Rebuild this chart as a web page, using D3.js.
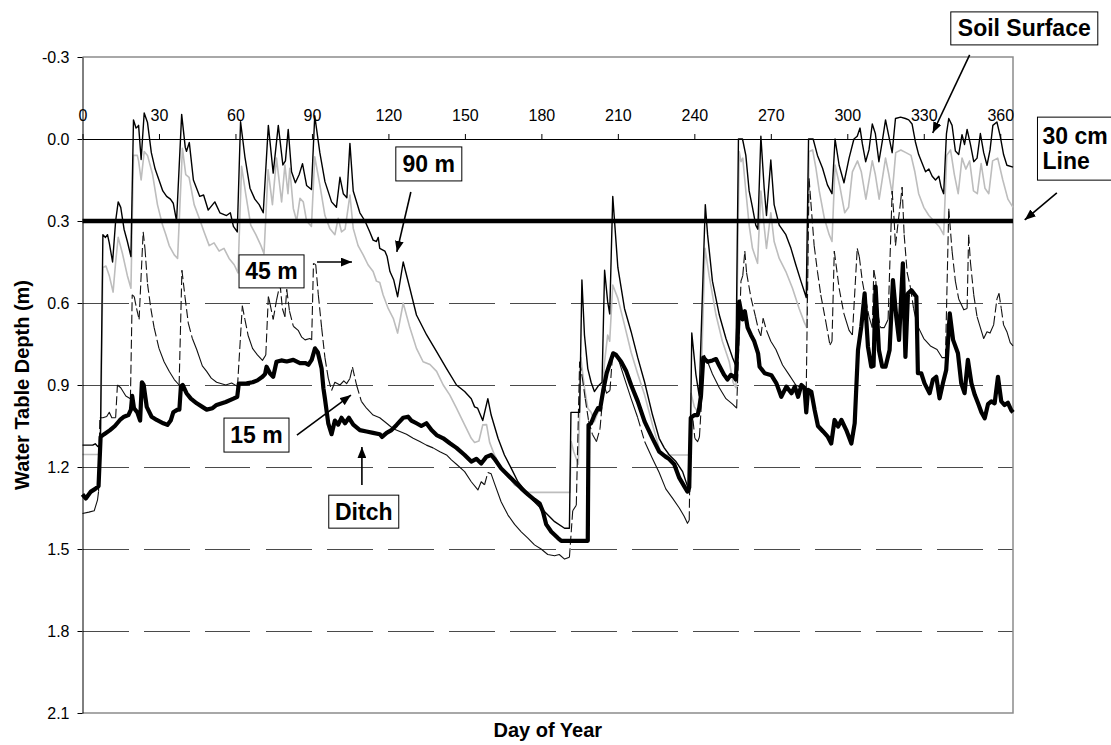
<!DOCTYPE html>
<html>
<head>
<meta charset="utf-8">
<title>Water Table Depth</title>
<script src="https://cdn.jsdelivr.net/npm/d3@7"></script>
<style>
  html, body { margin: 0; padding: 0; background: #fff; }
  svg { display: block; font-family: "Liberation Sans", Arial, sans-serif; }
</style>
</head>
<body>
<svg id="chart" width="1111" height="745"></svg>
<script>
// Values: [day of year, water table depth (m)].
const dayTicks = [0, 30, 60, 90, 120, 150, 180, 210, 240, 270, 300, 330, 360];
const depthTicks = [-0.3, 0.0, 0.3, 0.6, 0.9, 1.2, 1.5, 1.8, 2.1];
const thirtyCmLine = 0.3;

const well90m = [
  [0,1.12],[4,1.12],[5,1.115],[6,1.125],[7,1.12],[8,0.35],[9,0.36],[9.8,0.35],[10.5,0.38],[11.8,0.45],[13,0.30],[14,0.23],[15,0.25],[16.3,0.33],[17.6,0.375],[19,0.43],
  [20,-0.07],[21,-0.04],[21.6,-0.045],[22,-0.05],[23,0.075],[24.2,-0.095],[25.5,-0.06],[27,0.05],[28.5,0.11],[30,0.15],[31.5,0.19],[33,0.21],[34.5,0.22],[35.6,0.235],[36.9,0.30],
  [38.9,-0.09],[40.3,0.03],[40.8,0.045],[41.9,0.013],[43.5,0.15],[46,0.21],[47.5,0.205],[49.3,0.26],[51.9,0.23],[53.9,0.27],[56.5,0.28],[58,0.27],[59.2,0.32],[60.7,0.34],
  [62,-0.063],[63.7,0.065],[65.7,0.18],[67.6,0.22],[69.3,0.24],[70.9,0.27],
  [72.9,-0.05],[74.8,0.125],[76.8,-0.05],[78.6,0.095],[79.6,0.08],[80.7,-0.035],[82,0.12],[83.5,0.16],[85,0.13],[86.3,0.09],[87.9,0.17],[89.8,0.185],
  [91.1,-0.085],[93.1,0.05],[95.1,0.156],[97.7,0.23],[99.6,0.25],[101,0.14],[102.3,0.2],[103.7,0.215],[104.9,0.016],[106.2,0.19],[108.8,0.27],[110.8,0.30],[112.7,0.34],[114,0.37],[115.3,0.375],[116,0.36],[116.6,0.40],[118.6,0.41],[119.5,0.43],[120.6,0.485],[122.1,0.516],[123.6,0.577],[125.8,0.45],[128.4,0.546],[131,0.644],[135,0.717],[138.9,0.778],[142.8,0.84],[146.7,0.9],
  [149.9,0.924],[152.5,0.95],[153.8,0.98],[155,0.985],[157,1.03],[159,0.95],[160.3,1.01],[163,1.095],[165.5,1.156],[168.2,1.205],[170.8,1.254],[173.4,1.284],[176,1.315],[178.6,1.34],[181.2,1.363],[185.2,1.40],[189.1,1.424],[191,1.424],
  [191.6,1.0],[195,1.0],[195.9,0.516],[196.9,0.717],[198.2,0.84],[199.5,0.89],[200.8,0.924],[202.2,0.905],[203.8,0.89],[204.8,0.48],[206,0.595],[206.8,0.64],[208,0.21],[210,0.47],[212.6,0.62],[215.2,0.705],[217.8,0.80],[220.5,0.89],[223.6,1.01],[226.2,1.095],[228.2,1.13],[230.2,1.156],[232.8,1.18],[235.4,1.217],[237.3,1.27],[238.2,1.29],
  [239,0.71],[240.6,0.86],[241.9,0.94],[244.3,0.24],[245.2,0.35],[247.1,0.52],[249.8,0.644],[252.4,0.73],[255,0.80],[256.3,0.83],
  [257.3,0.0],[258.9,0.0],[260.2,0.06],[261.5,0.19],[262.8,0.25],[264.1,0.315],[264.9,0.33],[266.1,-0.01],[267.4,0.18],[268.3,0.28],[270,0.077],[271.3,0.24],[273.3,0.315],[275.9,0.35],[277.9,0.40],[279.8,0.46],[281.8,0.52],[283.9,0.58],
  [284.8,0.0],[286.6,0.0],[288.3,0.06],[290.3,0.107],[292.2,0.168],[294,0.2],[295.2,0.0],[296.8,0.096],[298.7,0.16],[300.7,0.07],[302.6,0.0],[303.9,-0.01],[305,-0.04],[305.9,0.017],[307.2,0.083],[308.5,0.04],[309.8,-0.055],[311,-0.02],[312.4,0.083],[313.7,0.01],[315,-0.07],[316.3,-0.01],[317.6,0.05],[318.9,-0.075],[320.9,-0.08],[322.8,-0.075],[324.1,-0.07],[325.4,-0.055],[326.7,0.01],[328,0.057],[329.4,0.09],[330.7,0.12],[332,0.11],[333.3,0.136],[334.6,0.15],[335.9,0.136],[336.8,0.176],[337.8,0.2],
  [338.9,-0.02],[339.8,-0.075],[341.1,-0.05],[342.4,0.044],[343.7,0.057],[345,-0.016],[346,0.02],[347,-0.035],[348.3,0.02],[349.6,0.083],[350.9,0.07],[352.2,-0.02],[353.5,0.05],[354.8,0.096],[356,0.04],[357.1,-0.05],[358.7,-0.062],[360,-0.01],[361.3,0.057],[362.6,0.096],[365,0.103]
];

const well45m = [
  [0,1.154],[6,1.154],[7,1.15],[8,0.47],[9.2,0.465],[10.5,0.50],[12,0.56],[13,0.45],[14,0.36],[15.7,0.42],[17.6,0.50],[19,0.546],
  [20,0.06],[21.5,0.06],[22,0.08],[23,0.15],[24.2,0.046],[25.5,0.06],[27.5,0.13],[29.4,0.24],[31.4,0.315],[32.7,0.35],[34,0.39],[36,0.424],[37.3,0.437],
  [39.2,0.034],[40.5,0.13],[41.8,0.14],[43.8,0.24],[45.8,0.29],[47.7,0.34],[49.7,0.39],[51.6,0.38],[53.6,0.41],[55.5,0.40],[57.5,0.437],[59.5,0.46],[61,0.49],
  [62.4,0.10],[64,0.2],[66,0.315],[68,0.35],[70,0.39],[71.2,0.42],
  [72.8,0.113],[74.5,0.24],[76.1,0.07],[78.1,0.23],[79.4,0.095],[80.6,0.2],[81.3,0.107],[82.7,0.254],[84,0.30],[85.3,0.217],[86.6,0.23],[87.9,0.30],[89.8,0.32],
  [91.1,0.065],[93.1,0.168],[95.1,0.28],[97,0.327],[99,0.35],[100.3,0.29],[101.6,0.34],[103,0.33],[104.9,0.205],[106.2,0.327],[108.1,0.39],[110.1,0.424],[112,0.46],[114,0.485],[115.3,0.52],[116.6,0.525],[117.9,0.57],[119.9,0.62],[121.9,0.656],[123.6,0.71],[125.8,0.60],[128.4,0.69],[131,0.766],[133.6,0.815],[136.3,0.825],[138.9,0.85],[141.5,0.9],[144.1,0.937],[146.7,0.985],
  [149.9,1.046],[152.5,1.095],[153.8,1.11],[155.5,1.105],[157,1.046],[158.5,1.045],[159.7,1.11],[161.6,1.156],[164.2,1.205],[166.9,1.23],[169.5,1.266],[172.1,1.278],[173.4,1.293],[191.2,1.293],
  [191.7,1.107],[192.7,1.144],[194.5,1.19],[195.5,0.80],[196.9,0.91],[198.2,0.985],[199.5,1.0],[200.8,1.034],[202.2,1.0],[203.5,0.973],[204.8,0.815],[206,0.717],[206.8,0.74],[208,0.534],[210,0.583],[212.6,0.68],[215.2,0.78],[217.8,0.86],[220.5,0.937],[223.6,1.046],[226.2,1.13],[227.5,1.156],[238,1.156],
  [238.7,0.93],[240,0.98],[241.5,1.0],[242.6,0.9],[244.2,0.40],[245.8,0.50],[248.5,0.644],[251,0.74],[253.7,0.815],[255.2,0.89],[256.3,0.91],
  [257.6,0.046],[258.3,0.083],[259,0.07],[260.2,0.19],[261.5,0.315],[262.8,0.40],[264.8,0.455],[266.1,0.19],[267.4,0.32],[268.3,0.40],[270,0.27],[271.3,0.375],[273.3,0.437],[275.9,0.485],[278.5,0.546],[281.1,0.62],[283.1,0.67],[284.1,0.69],
  [285,0.046],[286.4,0.04],[287.7,0.107],[289,0.19],[291,0.29],[292.9,0.35],[294,0.375],
  [295.2,0.095],[297,0.17],[299,0.27],[300.5,0.25],[302,0.12],[304,0.08],[305.5,0.12],[307.3,0.22],[309.8,0.08],[311,0.13],[312.5,0.22],[315,0.07],[316.3,0.13],[317.6,0.20],[319,0.05],[321,0.04],[323,0.05],[325,0.06],[326.5,0.12],[328,0.20],[330,0.25],[332,0.28],[334,0.30],[336,0.32],[337.8,0.35],
  [339,0.06],[340.5,0.04],[342,0.13],[343.5,0.20],[345,0.07],[346.5,0.11],[348,0.08],[349.5,0.19],[351,0.20],[352.5,0.09],[354,0.18],[355.5,0.20],[357,0.08],[359,0.07],[361,0.15],[363,0.22],[365,0.25]
];

const well15m = [
  [0,1.37],[2.5,1.365],[4.6,1.36],[5.9,1.32],[6.3,1.29],[6.8,1.02],[8,1.02],[9.5,1.015],[10.5,1.0],[11.5,1.02],[13,1.02],[13.7,0.90],[15,0.91],[17,0.94],[18.8,0.95],
  [19.5,0.57],[20.3,0.577],[21.2,0.62],[22.2,0.66],[23.8,0.34],[24.5,0.40],[25.5,0.53],[26.8,0.62],[28.1,0.69],[30,0.766],[32,0.815],[34,0.85],[36,0.88],[37.9,0.90],
  [39,0.48],[40.2,0.577],[41.5,0.674],[43.1,0.73],[44.8,0.77],[47,0.83],[48.7,0.85],[50.5,0.875],[52.6,0.89],[56.2,0.9],[58.5,0.893],[60.8,0.905],
  [62.7,0.61],[63.7,0.66],[65,0.72],[66.7,0.766],[68.6,0.79],[70.6,0.81],[71.9,0.79],
  [72.9,0.577],[73.5,0.60],[74.8,0.66],[76.1,0.59],[77.5,0.53],[78.4,0.62],[79.4,0.65],[80.1,0.55],[81.2,0.63],[82.7,0.685],[84.6,0.70],[86,0.725],[87.3,0.735],[89.2,0.73],[89.9,0.735],
  [90.6,0.455],[91.5,0.46],[92.5,0.57],[93.8,0.69],[95.1,0.80],[96.4,0.875],[97.7,0.92],[99,0.89],[101,0.9],[102.5,0.885],[103.6,0.895],[104.9,0.876],[105.9,0.835],[107.5,0.90],[109.4,0.96],[111.4,0.985],[114,1.01],[116.6,1.02],[119.3,1.04],[121.9,1.06],[124.5,1.07],[127.1,1.08],[129.7,1.095],[132.3,1.107],[134.9,1.12],[137.5,1.13],[140.2,1.144],[142.8,1.156],[144.7,1.174],[146.7,1.19],
  [149.9,1.217],[152.5,1.254],[155.1,1.284],[156.4,1.254],[157.7,1.265],[159,1.22],[160.3,1.225],[161.6,1.26],[164.2,1.327],[166.9,1.376],[169.5,1.41],[172.1,1.437],[174.7,1.46],[177.3,1.485],[179.9,1.50],[182.5,1.52],[185.2,1.525],[187,1.52],[189.1,1.537],[191,1.53],
  [192.3,1.36],[193.7,1.34],[195,0.815],[196,0.87],[197.2,0.95],[198.5,1.03],[200,1.08],[201.6,1.107],[203,1.06],[204.5,0.90],[205.6,0.93],[206.9,0.92],[208,0.78],[210,0.80],[212.6,0.876],[215.2,0.95],[217.8,1.02],[220.5,1.107],[223.6,1.17],[226.2,1.22],[228.8,1.28],[231.5,1.315],[234.1,1.35],[236,1.38],[237.3,1.406],[238,1.395],
  [238.5,1.01],[239.5,1.03],[240.2,1.095],[241.3,1.107],[242,1.09],[243.9,0.79],[245.2,0.815],[247.1,0.86],[249.8,0.91],[252.4,0.95],[255,0.97],[256.6,0.985],
  [258.3,0.52],[259,0.50],[259.8,0.41],[260.5,0.49],[262.2,0.58],[264,0.65],[265.2,0.70],[266.1,0.72],[267,0.656],[268.3,0.70],[270,0.74],[272,0.77],[274.6,0.827],[277.2,0.863],[279.8,0.9],[282.4,0.912],[283.9,0.92],
  [285,0.144],[285.7,0.23],[287,0.39],[288.3,0.485],[289.6,0.57],[291.6,0.67],[293.2,0.754],[294,0.74],
  [294.9,0.41],[296.8,0.546],[298.7,0.64],[300.7,0.70],[302,0.717],[303.9,0.40],[304.7,0.43],[305.9,0.52],[307.2,0.585],[308.5,0.65],[309.8,0.69],[310.4,0.48],[311.2,0.52],[312,0.64],[313,0.69],[314.5,0.69],[316,0.66],[317.6,0.19],[318.4,0.30],[318.9,0.39],[320,0.30],[320.9,0.23],[321.5,0.176],[322.3,0.35],[323.5,0.49],[324.8,0.545],[326,0.62],[327.4,0.68],[330,0.73],[332.6,0.757],[335.2,0.77],[337.2,0.80],[338.5,0.80],
  [339.8,0.255],[341.1,0.41],[342.4,0.52],[343.7,0.585],[345.7,0.625],[347,0.62],[347.6,0.35],[348.3,0.45],[349.6,0.57],[350.9,0.65],[352.2,0.69],[353.5,0.73],[354.8,0.705],[356,0.71],[357.4,0.68],[358.7,0.585],[359.5,0.565],[360.4,0.62],[361.3,0.68],[362.6,0.705],[363.9,0.745],[365,0.757]
];

const ditch = [
  [0,1.30],[1.3,1.315],[3.3,1.29],[5,1.28],[6.3,1.27],[7.1,1.09],[8.5,1.08],[10.8,1.065],[12.7,1.05],[14.7,1.028],[16.3,1.016],[18,1.01],[19,0.99],[19.5,0.94],[20.2,0.985],[21.5,1.0],[22.6,1.03],[23.3,0.89],[24,0.90],[25.2,0.98],[27.1,1.016],[29.1,1.028],[31.7,1.04],[33.3,1.046],[34.6,1.03],[35.6,1.0],[37.3,0.99],[38,0.99],[38.6,0.905],[39.3,0.90],[40.8,0.93],[42.5,0.95],[44.8,0.967],[47,0.98],[48.7,0.99],[51,0.985],[52.6,0.973],[56.2,0.962],[59.2,0.95],[60.7,0.943],[61.3,0.895],[64.4,0.894],[66.7,0.89],[68.6,0.883],[70.6,0.87],[71.6,0.86],[72.2,0.833],[73.5,0.857],[74.8,0.87],[76.1,0.815],[78,0.81],[80.1,0.814],[82.7,0.808],[85.3,0.82],[87.5,0.82],[88.6,0.826],[89.9,0.808],[91.2,0.766],[92.3,0.78],[93.8,0.84],[94.5,0.912],[95.1,0.95],[96.4,1.04],[97.7,1.08],[99,1.03],[100.3,1.045],[101.6,1.02],[103,1.04],[104.5,1.02],[106.2,1.045],[108.8,1.065],[111.4,1.07],[114,1.075],[116.6,1.08],[117.5,1.09],[119.3,1.075],[121.2,1.065],[123.2,1.046],[125.8,1.02],[127.7,1.016],[129,1.03],[131,1.04],[132.9,1.05],[134.9,1.04],[136.9,1.065],[138.9,1.083],[141.5,1.095],[144.1,1.113],[146.7,1.13],[149.9,1.156],[152.5,1.18],[154.5,1.17],[156.4,1.187],[158.4,1.163],[160.3,1.156],[161.6,1.17],[164.2,1.205],[166.9,1.23],[169.5,1.254],[172.1,1.278],[174.7,1.30],[177.3,1.32],[179.3,1.333],[180.6,1.363],[181.9,1.41],[183.9,1.437],[186.5,1.46],[187.8,1.47],[198.2,1.47],
  [198.5,1.046],[199.5,1.04],[200.8,1.01],[202.2,0.985],[203,0.99],[204.3,0.918],[205.6,0.857],[206.9,0.82],[208.2,0.784],[209.3,0.79],[211.3,0.815],[213.3,0.85],[215.2,0.9],[217.8,0.96],[220.5,1.034],[223.6,1.095],[226.2,1.144],[228.8,1.163],[230,1.17],[232.1,1.19],[234.1,1.24],[236,1.27],[237.3,1.29],[238,1.275],
  [238.6,1.02],[240,1.01],[241.3,1.01],[241.9,0.985],[242.6,0.94],[243.5,0.80],[245.2,0.815],[247.1,0.81],[248.5,0.805],[249.8,0.83],[251.7,0.863],[253,0.88],[254.3,0.863],[255.6,0.87],[256.3,0.88],
  [257.6,0.595],[258.9,0.66],[259.8,0.63],[260.9,0.69],[262.2,0.717],[263.5,0.74],[265,0.784],[265.6,0.833],[267.6,0.857],[270.2,0.864],[272.2,0.894],[274.1,0.943],[276.1,0.906],[278.1,0.93],[279.4,0.906],[280.7,0.943],[282,0.9],[283.2,0.91],[283.9,1.0],[284.6,0.918],[285.9,0.925],[287.2,0.992],[288.5,1.05],[290.5,1.07],[292.4,1.09],[293.7,1.114],[295,1.028],[296.4,1.052],[297.7,1.028],[299.6,1.065],[301.6,1.114],[302.9,1.04],[304.2,0.772],[305.5,0.686],[306.8,0.565],[308.1,0.76],[309.4,0.833],[310.3,0.83],[311.1,0.54],[312.4,0.772],[313.7,0.833],[315,0.833],[316.6,0.772],[317.9,0.516],[319.2,0.65],[320.3,0.735],[321.8,0.455],[322.8,0.797],[323.8,0.565],[325.1,0.553],[327.1,0.577],[327.7,0.857],[329,0.857],[330.3,0.894],[332.3,0.93],[333.6,0.88],[334.9,0.87],[336.2,0.949],[337.5,0.894],[338.8,0.845],[340.2,0.638],[341.5,0.735],[343.4,0.784],[344.7,0.894],[346,0.93],[347.3,0.808],[348.7,0.894],[350,0.936],[351.3,0.967],[352.6,1.0],[353.9,1.022],[355.2,0.97],[356.5,0.96],[357.8,0.967],[359.1,0.87],[360.4,0.96],[361.7,0.973],[363,0.965],[364.3,0.992],[365,1.0]
];

// Callout boxes and their arrows, placed in data units so they follow the scales.
// box is [left day, top depth, width px, height px].
const callouts = [
  { lines: ['Soil Surface'], box: [340.6, -0.465, 147, 33], from: [348.0, -0.308], to: [333.5, -0.022] },
  { lines: ['30 cm', 'Line'], box: [374.6, -0.080, 80, 63], from: [382.2, 0.197], to: [369.6, 0.296], align: 'start' },
  { lines: ['90 m'], box: [122.9, 0.029, 66, 34], from: [128.8, 0.194], to: [123.3, 0.413] },
  { lines: ['45 m'], box: [61.4, 0.424, 65, 33], from: [92.0, 0.450], to: [105.7, 0.450] },
  { lines: ['15 m'], box: [55.5, 1.021, 65, 34], from: [84.1, 1.083], to: [105.3, 0.937] },
  { lines: ['Ditch'], box: [96.6, 1.303, 70, 33], from: [109.6, 1.266], to: [109.6, 1.127] }
];

let svg = d3.select('#chart');

let x = d3.scaleLinear().domain([0, 365]).range([82.5, 1013]);
let y = d3.scaleLinear().domain([-0.3, 2.1]).range([57, 713]);

let plotLeft = x(0), plotRight = x(365), plotTop = y(-0.3), plotBottom = y(2.1);

// Long-dash horizontal gridlines below the 30 cm line.
svg.append('g')
  .selectAll('line')
  .data(depthTicks.filter(d => d > thirtyCmLine && d < 2.1))
  .enter().append('line')
  .attr('x1', plotLeft).attr('x2', plotRight)
  .attr('y1', d => y(d)).attr('y2', d => y(d))
  .attr('stroke', '#4a4a4a')
  .attr('stroke-width', 1)
  .attr('stroke-dasharray', '46,15')
  .attr('shape-rendering', 'crispEdges');

// Grey plot area border on top, right and bottom.
svg.append('path')
  .attr('d', `M${plotLeft},${plotTop}H${plotRight}V${plotBottom}H${plotLeft}`)
  .attr('fill', 'none')
  .attr('stroke', '#8c8c8c')
  .attr('stroke-width', 1.5);

let line = d3.line().x(d => x(d[0])).y(d => y(d[1]));

function drawSeries(data, color, width) {
  svg.append('path')
    .datum(data)
    .attr('d', line)
    .attr('fill', 'none')
    .attr('stroke', color)
    .attr('stroke-width', width)
    .attr('stroke-linejoin', 'round');
}

// Excel restarts the dash pattern at every data point, so the short daily
// steps look solid and only the steep jumps show their dashes.
function drawRestartDashed(data, color, width, dash) {
  let g = svg.append('g').attr('fill', 'none').attr('stroke', color).attr('stroke-width', width);
  let run = [data[0]];

  let flush = () => {
    if (run.length > 1) {
      g.append('path').datum(run).attr('d', line).attr('stroke-linejoin', 'round');
    }
  };

  for (let i = 1; i < data.length; i++) {
    let a = data[i - 1], b = data[i];
    let len = Math.hypot(x(b[0]) - x(a[0]), y(b[1]) - y(a[1]));
    let perDay = len / Math.max(1, b[0] - a[0]);

    if (perDay > dash[0]) {
      flush();
      g.append('path').datum([a, b]).attr('d', line).attr('stroke-dasharray', dash.join(','));
      run = [b];
    } else {
      run.push(b);
    }
  }
  flush();
}

drawSeries(well45m, '#bdbdbd', 1.6);
drawRestartDashed(well15m, '#111', 1.1, [9, 3.5]);
drawSeries(well90m, '#000', 1.4);
drawSeries(ditch, '#000', 4.2);

// The 30 cm line.
svg.append('line')
  .attr('x1', plotLeft).attr('x2', plotRight)
  .attr('y1', y(thirtyCmLine)).attr('y2', y(thirtyCmLine))
  .attr('stroke', '#000')
  .attr('stroke-width', 4.5);

// Day axis sits on the soil surface line with its labels above it.
let xAxis = svg.append('g')
  .attr('transform', `translate(0,${y(0)})`)
  .call(d3.axisTop(x).tickValues(dayTicks).tickSize(5).tickSizeOuter(0).tickPadding(13));

let yAxis = svg.append('g')
  .attr('transform', `translate(${plotLeft},0)`)
  .call(d3.axisLeft(y).tickValues(depthTicks).tickFormat(d => d.toFixed(1)).tickSize(5).tickSizeOuter(0).tickPadding(8));

[xAxis, yAxis].forEach(axis => {
  axis.attr('font-family', null).attr('font-size', null);
  axis.selectAll('text').attr('font-size', 16).attr('fill', '#000');
  axis.selectAll('line, path').attr('stroke', '#000').attr('stroke-width', 1);
});

// Axis titles.
svg.append('text')
  .attr('transform', `translate(22,${(plotTop + plotBottom) / 2}) rotate(-90)`)
  .attr('text-anchor', 'middle')
  .attr('dy', '0.35em')
  .attr('font-size', 20)
  .attr('font-weight', 'bold')
  .text('Water Table Depth (m)');

svg.append('text')
  .attr('x', (plotLeft + plotRight) / 2)
  .attr('y', 737)
  .attr('text-anchor', 'middle')
  .attr('font-size', 20)
  .attr('font-weight', 'bold')
  .text('Day of Year');

// Arrow heads for the callouts.
svg.append('defs').append('marker')
  .attr('id', 'arrow')
  .attr('markerUnits', 'userSpaceOnUse')
  .attr('viewBox', '0 0 10 8')
  .attr('markerWidth', 11)
  .attr('markerHeight', 9)
  .attr('refX', 10)
  .attr('refY', 4)
  .attr('orient', 'auto')
  .append('path')
  .attr('d', 'M0,0L10,4L0,8Z')
  .attr('fill', '#000');

callouts.forEach(c => {
  let bx = x(c.box[0]), by = y(c.box[1]), bw = c.box[2], bh = c.box[3];

  svg.append('line')
    .attr('x1', x(c.from[0])).attr('y1', y(c.from[1]))
    .attr('x2', x(c.to[0])).attr('y2', y(c.to[1]))
    .attr('stroke', '#000')
    .attr('stroke-width', 1.6)
    .attr('marker-end', 'url(#arrow)');

  svg.append('rect')
    .attr('x', bx).attr('y', by)
    .attr('width', bw).attr('height', bh)
    .attr('fill', '#fff')
    .attr('stroke', '#000')
    .attr('stroke-width', 1);

  let text = svg.append('text')
    .attr('font-size', 23)
    .attr('font-weight', 'bold')
    .attr('text-anchor', c.align === 'start' ? 'start' : 'middle');

  c.lines.forEach((t, i) => {
    text.append('tspan')
      .attr('x', c.align === 'start' ? bx + 5 : bx + bw / 2)
      .attr('y', by + bh / 2 + 8 + (i - (c.lines.length - 1) / 2) * 25)
      .text(t);
  });
});
</script>
</body>
</html>
